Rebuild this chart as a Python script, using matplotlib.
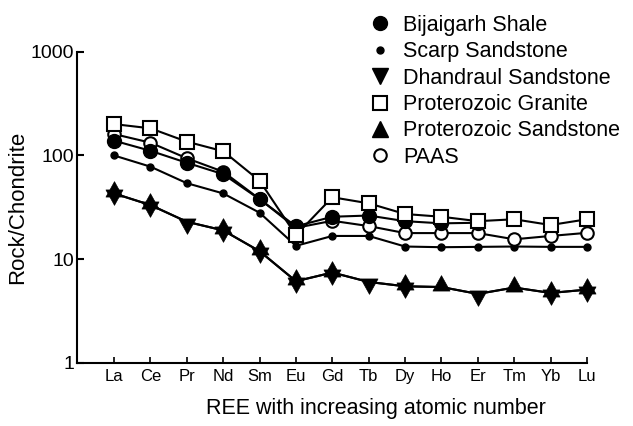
import matplotlib
matplotlib.use("Agg")
import matplotlib.pyplot as plt
from matplotlib.lines import Line2D

plt.rcParams['font.family'] = ['Liberation Sans', 'DejaVu Sans']

# REE chondrite-normalised values
elements = ['La', 'Ce', 'Pr', 'Nd', 'Sm', 'Eu', 'Gd', 'Tb', 'Dy', 'Ho', 'Er', 'Tm', 'Yb', 'Lu']

bijaigarh_shale = [139, 111, 85, 66, 37.8, 20.7, 25.6, 26.3, 23.2, 22.1, 22.4]
scarp_sandstone = [100, 78, 54, 43, 28, 13.4, 16.7, 16.7, 13.2, 13.0, 13.1, 13.2, 13.1, 13.1]
dhandraul_sandstone = [43, 33.2, 22.9, 18.9, 11.9, 6.1, 7.4, 6.0, 5.45, 5.36, 4.6, 5.3, 4.7, 5.06]
proterozoic_granite = [201, 183, 136, 110, 57, 17, 39.5, 34.5, 27.2, 25.6, 23.2, 24.2, 21.3, 24.2]
proterozoic_sandstone = [43, 33.2, 22.9, 18.9, 11.9, 6.1, 7.4, 6.0, 5.45, 5.36, 4.6, 5.3, 4.7, 5.06]
paas = [161, 133, 94, 69.7, 38, 20, 23.4, 20.8, 17.8, 17.8, 17.8, 15.5, 16.7, 17.9]

# which elements carry a marker for the two sandstones sharing one line
dhandraul_marks = ['La', 'Ce', 'Pr', 'Nd', 'Sm', 'Eu', 'Gd', 'Tb', 'Dy', 'Er', 'Yb', 'Lu']
prot_sst_marks = ['La', 'Ce', 'Nd', 'Sm', 'Eu', 'Gd', 'Dy', 'Ho', 'Tm', 'Yb', 'Lu']

# triangles whose overlap makes the six-pointed stars
TRI_UP = [(0, 1), (-0.72, -0.3), (0.72, -0.3), (0, 1)]
TRI_DOWN = [(0, -1), (-0.72, 0.3), (0.72, 0.3), (0, -1)]
TRI_MS = 17


def main():
    fig = plt.figure(figsize=(6.33, 4.26), dpi=100)
    ax = fig.add_axes([0.1216, 0.149, 0.8057, 0.729])

    x = list(range(len(elements)))
    kw = dict(color='black', lw=1.5, clip_on=False)

    ax.plot(x[:len(scarp_sandstone)], scarp_sandstone, marker='o', ms=5,
            mfc='black', mec='black', zorder=2, **kw)
    ax.plot(x[:len(paas)], paas, marker='o', ms=9, mfc='white',
            mec='black', mew=1.5, zorder=3, **kw)
    ax.plot(x[:len(bijaigarh_shale)], bijaigarh_shale, marker='o', ms=10,
            mfc='black', mec='black', zorder=4, **kw)
    ax.plot(x[:len(proterozoic_granite)], proterozoic_granite, marker='s',
            ms=10, mfc='white', mec='black', mew=1.5, zorder=5, **kw)

    d_idx = [elements.index(e) for e in dhandraul_marks]
    p_idx = [elements.index(e) for e in prot_sst_marks]
    ax.plot(x, dhandraul_sandstone, marker=TRI_DOWN, ms=TRI_MS, mfc='black',
            mec='black', mew=0.5, markevery=d_idx, zorder=2, **kw)
    ax.plot(x, proterozoic_sandstone, marker=TRI_UP, ms=TRI_MS, mfc='black',
            mec='black', mew=0.5, markevery=p_idx, zorder=2, **kw)

    ax.set_yscale('log')
    ax.set_ylim(1, 1000)
    ax.set_xlim(-1.02, 13)
    ax.set_yticks([1, 10, 100, 1000])
    ax.set_yticklabels(['1', '10', '100', '1000'])
    ax.minorticks_off()
    ax.set_xticks(x)
    ax.set_xticklabels(elements, fontsize=12)
    ax.tick_params(axis='y', labelsize=14, direction='in', length=5, width=1.5, pad=2)
    ax.tick_params(axis='x', direction='in', length=4, width=1.2, pad=5)

    for s in ['top', 'right']:
        ax.spines[s].set_visible(False)
    for s in ['left', 'bottom']:
        ax.spines[s].set_linewidth(1.5)

    ax.set_ylabel('Rock/Chondrite', fontsize=16, labelpad=2)
    ax.set_xlabel('REE with increasing atomic number', fontsize=15.5, va='center')
    ax.xaxis.set_label_coords(0.586, -0.1465)

    handles = [
        Line2D([], [], ls='none', marker='o', ms=10, mfc='black', mec='black'),
        Line2D([], [], ls='none', marker='o', ms=5, mfc='black', mec='black'),
        Line2D([], [], ls='none', marker='v', ms=11, mfc='black', mec='black'),
        Line2D([], [], ls='none', marker='s', ms=10, mfc='white', mec='black', mew=1.5),
        Line2D([], [], ls='none', marker='^', ms=11, mfc='black', mec='black'),
        Line2D([], [], ls='none', marker='o', ms=9, mfc='white', mec='black', mew=1.5),
    ]
    labels = ['Bijaigarh Shale', 'Scarp Sandstone', 'Dhandraul Sandstone',
              'Proterozoic Granite', 'Proterozoic Sandstone', 'PAAS']
    fig.legend(handles, labels, loc='upper left', bbox_to_anchor=(0.583, 0.965),
               frameon=False, fontsize=15.5, handlelength=1.0, handletextpad=0.6,
               labelspacing=0.25, borderaxespad=0, borderpad=0)

    fig.savefig('out.png', dpi=100)


if __name__ == "__main__":
    main()
